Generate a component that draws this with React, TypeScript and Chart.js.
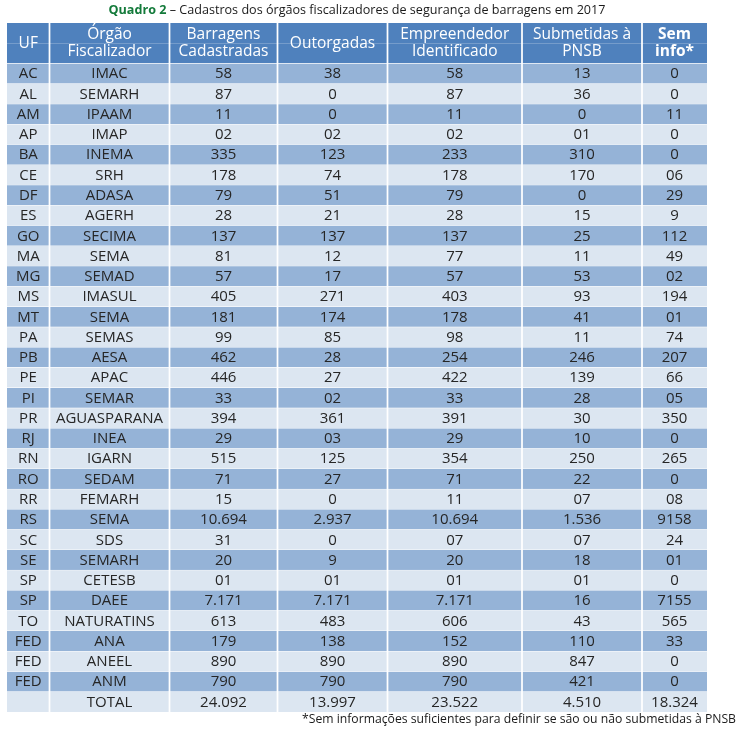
import React, { useEffect, useRef } from 'react';
import { Chart, registerables } from 'chart.js';

Chart.register(...registerables);

// ---------- text ----------
const TITLE_LEAD = 'Quadro 2';
const TITLE_REST = ' – Cadastros dos órgãos fiscalizadores de segurança de barragens em 2017';
const FOOTNOTE = '*Sem informações suficientes para definir se são ou não submetidas à PNSB';

const HEADERS: string[][] = [
  ['UF'],
  ['Órgão', 'Fiscalizador'],
  ['Barragens', 'Cadastradas'],
  ['Outorgadas'],
  ['Empreendedor', 'Identificado'],
  ['Submetidas à', 'PNSB'],
  ['Sem', 'info*'],
];

// ---------- data ----------
const UF = ['AC', 'AL', 'AM', 'AP', 'BA', 'CE', 'DF', 'ES', 'GO', 'MA', 'MG', 'MS', 'MT', 'PA', 'PB', 'PE', 'PI', 'PR', 'RJ', 'RN', 'RO', 'RR', 'RS', 'SC', 'SE', 'SP', 'SP', 'TO', 'FED', 'FED', 'FED'];
const ORGAO = ['IMAC', 'SEMARH', 'IPAAM', 'IMAP', 'INEMA', 'SRH', 'ADASA', 'AGERH', 'SECIMA', 'SEMA', 'SEMAD', 'IMASUL', 'SEMA', 'SEMAS', 'AESA', 'APAC', 'SEMAR', 'AGUASPARANA', 'INEA', 'IGARN', 'SEDAM', 'FEMARH', 'SEMA', 'SDS', 'SEMARH', 'CETESB', 'DAEE', 'NATURATINS', 'ANA', 'ANEEL', 'ANM'];
const BARRAGENS = ['58', '87', '11', '02', '335', '178', '79', '28', '137', '81', '57', '405', '181', '99', '462', '446', '33', '394', '29', '515', '71', '15', '10.694', '31', '20', '01', '7.171', '613', '179', '890', '790'];
const OUTORGADAS = ['38', '0', '0', '02', '123', '74', '51', '21', '137', '12', '17', '271', '174', '85', '28', '27', '02', '361', '03', '125', '27', '0', '2.937', '0', '9', '01', '7.171', '483', '138', '890', '790'];
const EMPREENDEDOR = ['58', '87', '11', '02', '233', '178', '79', '28', '137', '77', '57', '403', '178', '98', '254', '422', '33', '391', '29', '354', '71', '11', '10.694', '07', '20', '01', '7.171', '606', '152', '890', '790'];
const SUBMETIDAS = ['13', '36', '0', '01', '310', '170', '0', '15', '25', '11', '53', '93', '41', '11', '246', '139', '28', '30', '10', '250', '22', '07', '1.536', '07', '18', '01', '16', '43', '110', '847', '421'];
const SEM_INFO = ['0', '0', '11', '0', '0', '06', '29', '9', '112', '49', '02', '194', '01', '74', '207', '66', '05', '350', '0', '265', '0', '08', '9158', '24', '01', '0', '7155', '565', '33', '0', '0'];
const TOTAL_ROW = ['', 'TOTAL', '24.092', '13.997', '23.522', '4.510', '18.324'];

const COLUMNS = [UF, ORGAO, BARRAGENS, OUTORGADAS, EMPREENDEDOR, SUBMETIDAS, SEM_INFO];

// ---------- layout / style ----------
const COL_WIDTHS = [42.5, 120, 108, 110, 134.5, 120, 65];
const HEADER_SLOTS = 2;
const N_DATA = UF.length;
const N_ROWS = HEADER_SLOTS + N_DATA + 1;

const HEADER_BG = '#4f81bd';
const DARK_BG = '#95b3d7';
const LIGHT_BG = '#dce6f1';
const TEXT_COLOR = '#262626';
const FONT = '"Open Sans", "Liberation Sans", sans-serif';

const ROW_LABELS = [
  ...Array.from({ length: HEADER_SLOTS }, (_, i) => `header${i}`),
  ...UF,
  'TOTAL',
];

function cellText(r: number, c: number): string {
  if (r < HEADER_SLOTS) return '';
  const k = r - HEADER_SLOTS;
  if (k < N_DATA) return COLUMNS[c][k];
  return TOTAL_ROW[c];
}

const tableTextPlugin = {
  id: 'tableText',
  afterDatasetsDraw(chart: any) {
    const ctx = chart.ctx as CanvasRenderingContext2D;
    ctx.save();
    ctx.textAlign = 'center';
    ctx.textBaseline = 'middle';
    chart.data.datasets.forEach((_: any, c: number) => {
      const meta = chart.getDatasetMeta(c);
      const els = meta.data;
      // header (spans the header slots)
      const first = els[0].getProps(['x', 'y', 'base', 'height'], true);
      const last = els[HEADER_SLOTS - 1].getProps(['x', 'y', 'base', 'height'], true);
      const top = first.y - first.height / 2;
      const bottom = last.y + last.height / 2;
      const cx = (first.x + first.base) / 2;
      const cy = (top + bottom) / 2;
      const lines = HEADERS[c];
      const bold = c === COLUMNS.length - 1;
      ctx.font = `${bold ? 'bold ' : ''}15.5px ${FONT}`;
      ctx.fillStyle = '#ffffff';
      const lh = 17;
      lines.forEach((ln, i) => {
        const y = cy + (i - (lines.length - 1) / 2) * lh;
        ctx.fillText(ln, cx, y);
      });
      // body
      ctx.font = `15px ${FONT}`;
      ctx.fillStyle = TEXT_COLOR;
      for (let r = HEADER_SLOTS; r < N_ROWS; r++) {
        const p = els[r].getProps(['x', 'y', 'base'], true);
        const t = cellText(r, c);
        if (t) ctx.fillText(t, (p.x + p.base) / 2, p.y + 0.5);
      }
    });
    ctx.restore();
  },
};

export default function App() {
  const ref = useRef<HTMLCanvasElement | null>(null);

  useEffect(() => {
    if (!ref.current) return;
    const starts: number[] = [];
    let acc = 0;
    COL_WIDTHS.forEach((w) => {
      starts.push(acc);
      acc += w;
    });
    const totalW = acc;

    const datasets = COLUMNS.map((_, c) => ({
      label: HEADERS[c].join(' '),
      data: ROW_LABELS.map(() => [starts[c], starts[c] + COL_WIDTHS[c]] as [number, number]),
      grouped: false,
      barPercentage: 1,
      categoryPercentage: 1,
      borderSkipped: false as const,
      borderColor: '#ffffff',
      backgroundColor: (ctx: any) => {
        const r = ctx.dataIndex;
        if (r < HEADER_SLOTS) return HEADER_BG;
        const k = r - HEADER_SLOTS;
        return k % 2 === 0 ? DARK_BG : LIGHT_BG;
      },
      borderWidth: (ctx: any) => {
        const r = ctx.dataIndex;
        const col = ctx.datasetIndex;
        const left = col === 0 ? 0 : 1.2;
        const right = col === COLUMNS.length - 1 ? 0 : 1.2;
        if (r < HEADER_SLOTS - 1) return { left, right, top: 0, bottom: 0 };
        if (r === HEADER_SLOTS - 1) return { left, right, top: 0, bottom: 0.5 };
        if (r === N_ROWS - 1) return { left, right, top: 0.5, bottom: 0 };
        return { left, right, top: 0.5, bottom: 0.5 };
      },
    }));

    const chart = new Chart(ref.current, {
      type: 'bar',
      data: { labels: ROW_LABELS, datasets },
      options: {
        indexAxis: 'y',
        responsive: false,
        animation: false,
        devicePixelRatio: 1,
        layout: { padding: { left: 7, right: 42, top: 23, bottom: 17 } },
        scales: {
          x: { type: 'linear', min: 0, max: totalW, display: false },
          y: { type: 'category', display: false },
        },
        plugins: {
          legend: { display: false },
          tooltip: { enabled: false },
          title: { display: false },
        },
        events: [],
      },
      plugins: [tableTextPlugin],
    } as any);
    return () => chart.destroy();
  }, []);

  return (
    <div style={{ position: 'absolute', left: 0, top: 0, width: 749, height: 729, background: '#ffffff', fontFamily: FONT }}>
      <canvas ref={ref} width={749} height={729} style={{ position: 'absolute', left: 0, top: 0 }} />
      <div
        style={{
          position: 'absolute', left: 7, top: 3, width: 700, textAlign: 'center',
          fontSize: 12.6, lineHeight: '14px', color: '#1a1a1a', whiteSpace: 'nowrap',
        }}
      >
        <span style={{ color: '#137a3a', fontWeight: 'bold' }}>{TITLE_LEAD}</span>
        {TITLE_REST}
      </div>
      <div
        style={{
          position: 'absolute', left: 0, top: 712, width: 736, textAlign: 'right',
          fontSize: 12.2, lineHeight: '14px', color: '#1a1a1a', whiteSpace: 'nowrap',
        }}
      >
        {FOOTNOTE}
      </div>
    </div>
  );
}
